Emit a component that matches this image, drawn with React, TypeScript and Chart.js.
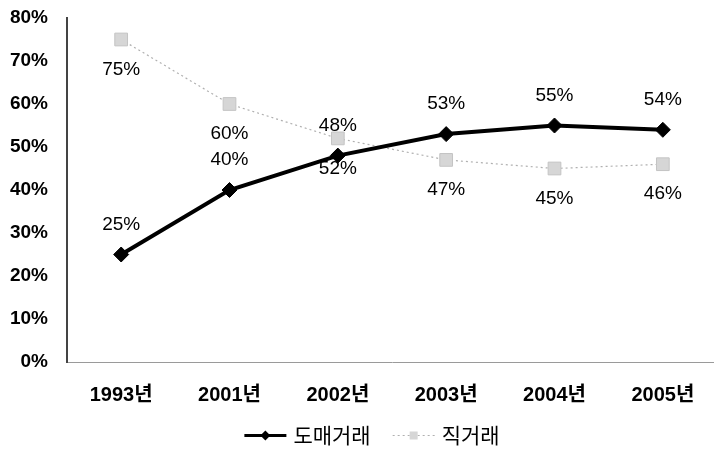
import React, { useEffect, useRef } from "react";
import { Chart, registerables } from "chart.js";

Chart.register(...registerables);

// Share of trade by channel, per year
const years: string[] = ["1993년", "2001년", "2002년", "2003년", "2004년", "2005년"];
const wholesaleShare: number[] = [25, 40, 48, 53, 55, 54]; // 도매거래
const directShare: number[] = [75, 60, 52, 47, 45, 46]; // 직거래
const seriesNames: string[] = ["도매거래", "직거래"];
const yMax = 80;
const yStep = 10;

const LATIN = '"Liberation Sans", "Noto Sans CJK KR", sans-serif';
const HANGUL = '"Noto Sans CJK KR", "Liberation Sans", sans-serif';

const BLACK = "#000000";
const GREY_LINE = "#b0b0b0";
const GREY_FILL = "#d6d6d6";

// Value labels: wholesale above its point, direct below its point
const valueLabels = {
  id: "valueLabels",
  afterDatasetsDraw(chart: Chart) {
    const ctx = chart.ctx;
    ctx.save();
    ctx.font = `19px ${LATIN}`;
    ctx.fillStyle = BLACK;
    ctx.textAlign = "center";
    ctx.textBaseline = "middle";
    chart.data.datasets.forEach((ds, di) => {
      const meta = chart.getDatasetMeta(di);
      const dy = di === 0 ? -30 : 30;
      meta.data.forEach((pt, i) => {
        const v = ds.data[i] as number;
        ctx.fillText(`${v}%`, pt.x, pt.y + dy);
      });
    });
    ctx.restore();
  },
};

// Legend with line-and-marker icons, drawn under the x axis
const lineLegend = {
  id: "lineLegend",
  afterDraw(chart: Chart) {
    const ctx = chart.ctx;
    ctx.save();
    ctx.font = `21px ${HANGUL}`;
    ctx.textBaseline = "middle";
    ctx.textAlign = "left";
    const y = 435.5;
    const iconW = 42;
    const iconGap = 7;
    const itemGap = 22;
    const w0 = ctx.measureText(seriesNames[0]).width;
    const w1 = ctx.measureText(seriesNames[1]).width;
    const total = iconW + iconGap + w0 + itemGap + iconW + iconGap + w1;
    let x = (chart.chartArea.left + chart.chartArea.right) / 2 - 20 - total / 2;

    // wholesale icon
    ctx.strokeStyle = BLACK;
    ctx.lineWidth = 3;
    ctx.beginPath();
    ctx.moveTo(x, y);
    ctx.lineTo(x + iconW, y);
    ctx.stroke();
    ctx.fillStyle = BLACK;
    ctx.beginPath();
    const cx = x + iconW / 2;
    ctx.moveTo(cx, y - 5);
    ctx.lineTo(cx + 5, y);
    ctx.lineTo(cx, y + 5);
    ctx.lineTo(cx - 5, y);
    ctx.closePath();
    ctx.fill();
    x += iconW + iconGap;
    ctx.fillStyle = BLACK;
    ctx.fillText(seriesNames[0], x, y);
    x += w0 + itemGap;

    // direct icon
    ctx.strokeStyle = GREY_LINE;
    ctx.lineWidth = 1;
    ctx.setLineDash([2, 3]);
    ctx.beginPath();
    ctx.moveTo(x, y);
    ctx.lineTo(x + iconW, y);
    ctx.stroke();
    ctx.setLineDash([]);
    ctx.fillStyle = GREY_FILL;
    ctx.fillRect(x + iconW / 2 - 4, y - 4, 8, 8);
    x += iconW + iconGap;
    ctx.fillStyle = BLACK;
    ctx.fillText(seriesNames[1], x, y);
    ctx.restore();
  },
};

export default function App() {
  const ref = useRef<HTMLCanvasElement | null>(null);

  useEffect(() => {
    if (!ref.current) return;
    const chart = new Chart(ref.current, {
      type: "line",
      data: {
        labels: years,
        datasets: [
          {
            label: seriesNames[0],
            data: wholesaleShare,
            borderColor: BLACK,
            backgroundColor: BLACK,
            borderWidth: 4,
            pointStyle: "rectRot",
            pointRadius: 7.5,
            pointBorderWidth: 1,
            pointBackgroundColor: BLACK,
            pointBorderColor: BLACK,
            tension: 0,
            order: 1,
          },
          {
            label: seriesNames[1],
            data: directShare,
            borderColor: GREY_LINE,
            backgroundColor: GREY_FILL,
            borderWidth: 1.2,
            borderDash: [2, 3],
            pointStyle: "rect",
            pointRadius: 9,
            pointBorderWidth: 1,
            pointBackgroundColor: GREY_FILL,
            pointBorderColor: "#c4c4c4",
            tension: 0,
            order: 2,
          },
        ],
      },
      options: {
        animation: false,
        responsive: false,
        devicePixelRatio: 1,
        layout: { padding: { top: 18, left: 0, right: 0, bottom: 30 } },
        plugins: {
          legend: { display: false },
          tooltip: { enabled: false },
        },
        scales: {
          x: {
            offset: true,
            grid: { display: false, drawTicks: false },
            border: { display: true, color: "#9a9a9a", width: 1, dash: [1, 1] },
            ticks: {
              color: BLACK,
              font: { family: LATIN, size: 20, weight: "bold" },
              padding: 21,
              maxRotation: 0,
              autoSkip: false,
            },
            afterFit(scale: any) {
              scale.height = 63;
            },
          },
          y: {
            min: 0,
            max: yMax,
            grid: { display: false, drawTicks: false },
            border: { display: true, color: "#444444", width: 2 },
            ticks: {
              stepSize: yStep,
              color: BLACK,
              font: { family: LATIN, size: 19, weight: "bold" },
              padding: 19,
              callback: (v: any) => `${v}%`,
            },
            afterFit(scale: any) {
              scale.width = 67;
              scale.paddingTop = 0;
              scale.paddingBottom = 0;
            },
          },
        },
      },
      plugins: [valueLabels, lineLegend],
    });
    return () => chart.destroy();
  }, []);

  return (
    <div
      style={{
        position: "fixed",
        left: 0,
        top: 0,
        width: 714,
        height: 455,
        overflow: "hidden",
        background: "#ffffff",
      }}
    >
      <canvas ref={ref} width={727} height={455} style={{ display: "block", width: 727, height: 455 }} />
    </div>
  );
}
